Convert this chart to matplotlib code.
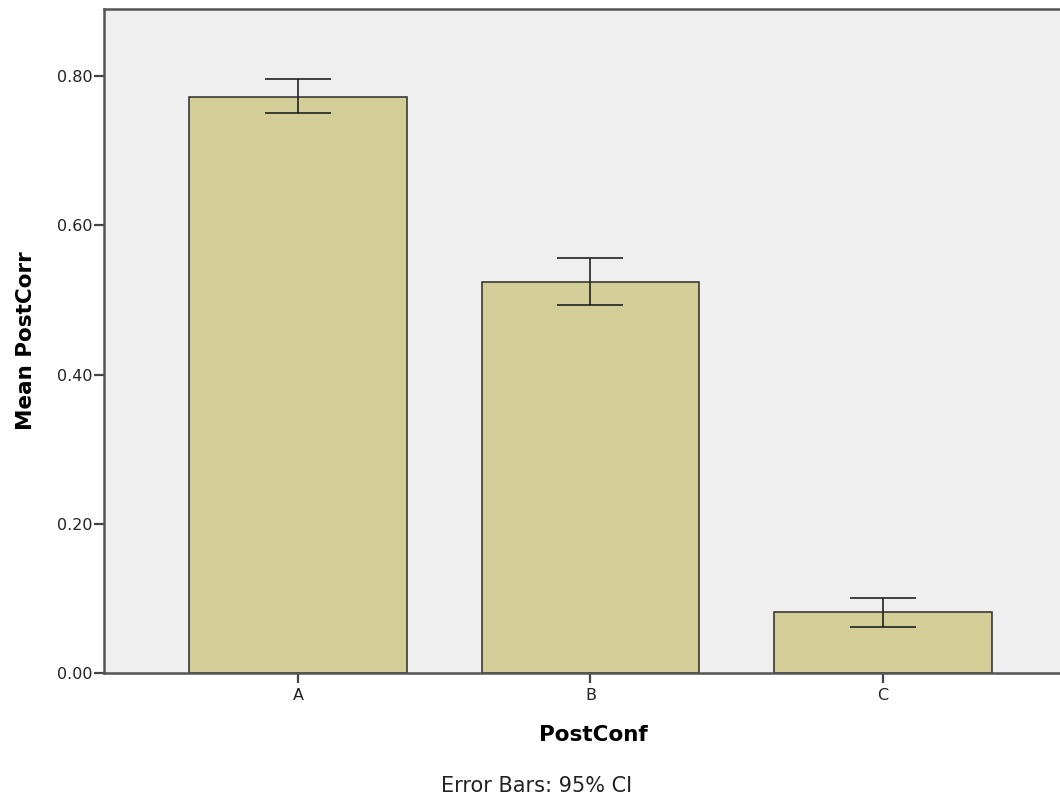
import matplotlib.pyplot as plt
import numpy as np

plt.rcParams['font.family'] = ['DejaVu Sans']

# --- Data ---
categories = ["A", "B", "C"]
means = [0.772, 0.524, 0.082]
ci_low = [0.750, 0.493, 0.062]
ci_high = [0.796, 0.556, 0.100]

x = np.arange(len(categories))
yerr = np.array([np.subtract(means, ci_low), np.subtract(ci_high, means)])

# --- Figure setup ---
W, H = 1060, 795
fig = plt.figure(figsize=(W / 100, H / 100), dpi=100)
ax = fig.add_axes([104 / W, 122 / H, (W - 104) / W, (673 - 9) / H])
ax.set_facecolor("#efefef")

ax.bar(x, means, width=0.745, color="#d3ce98", edgecolor="#2b2b2b", linewidth=1.1, zorder=2)
ax.errorbar(x, means, yerr=yerr, fmt="none", ecolor="#222222", elinewidth=1.2,
            capsize=24, capthick=1.2, zorder=3)

ax.set_xlim(-0.663, 2.605)
ax.set_ylim(0, 0.8898)
ax.set_xticks(x)
ax.set_xticklabels(categories)
yt = [0, 0.2, 0.4, 0.6, 0.8]
ax.set_yticks(yt)
ax.set_yticklabels([f"{v:.2f}" for v in yt])
ax.tick_params(axis="both", labelsize=11.5, length=7, width=1.6, color="#444444", labelcolor="#222222")
ax.tick_params(axis="y", pad=1.5)
ax.tick_params(axis="x", pad=4)

ax.spines["right"].set_visible(False)
for s in ["left", "top", "bottom"]:
    ax.spines[s].set_color("#555555")
    ax.spines[s].set_linewidth(1.8)

ax.set_xlabel("PostConf", fontsize=15.5, fontweight="bold", va="baseline")
ax.xaxis.set_label_coords((593 - 104) / (W - 104), -(741 - 673) / 664)
ax.set_ylabel("Mean PostCorr", fontsize=15.5, fontweight="bold", va="center")
ax.yaxis.set_label_coords((26 - 104) / (W - 104), 0.5)

fig.text(537 / W, 3 / H, "Error Bars: 95% CI", ha="center", va="baseline",
         fontsize=15, color="#222222")

fig.savefig("out.png", dpi=100)
